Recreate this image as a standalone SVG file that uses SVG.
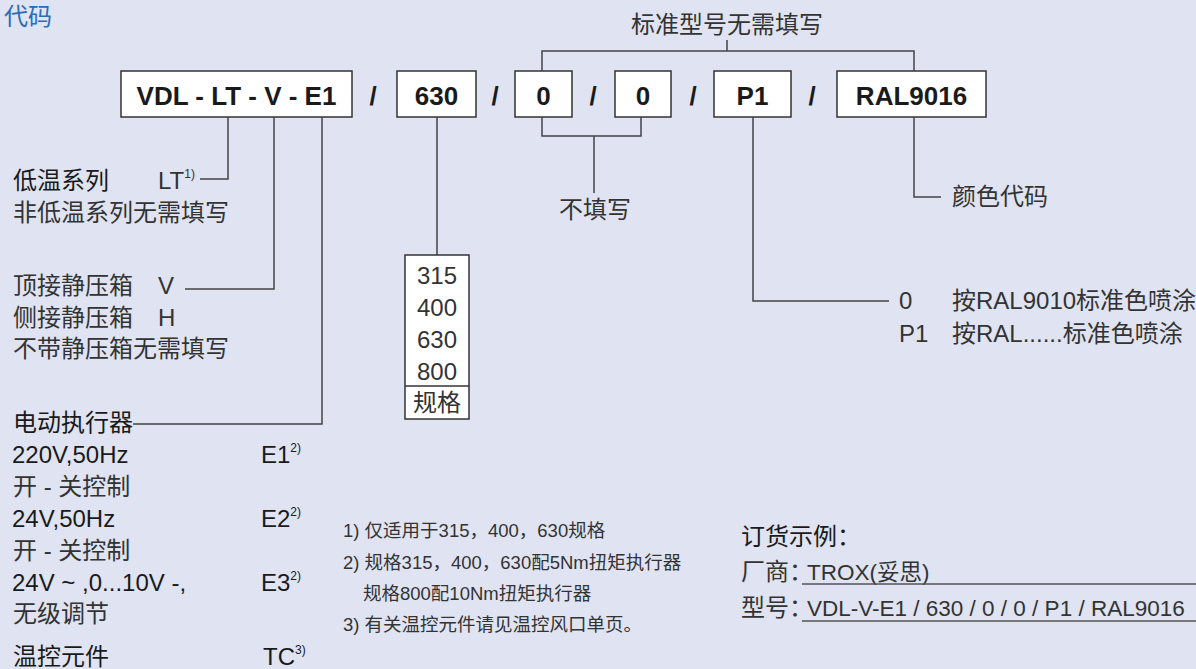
<svg xmlns="http://www.w3.org/2000/svg" width="1196" height="669" viewBox="0 0 1196 669">
<style>
text{font-family:"Liberation Sans","Noto Sans CJK SC",sans-serif;fill:#333}
.t{font-size:24px}
.d{fill:#1a1a1a}
.b{font-size:26px;font-weight:bold;fill:#1a1a1a}
.s{font-size:12px}
.f{font-size:18.5px}
.o{font-size:22.5px}
.box{fill:#fff;stroke:#333;stroke-width:1.5}
.ln{fill:none;stroke:#444;stroke-width:1.5}
.c{text-anchor:middle}
</style>
<rect x="0" y="0" width="1196" height="669" fill="#dfe3f2"/>
<text x="4" y="25" style="font-size:24px;fill:#2b6cb5">代码</text>

<g id="box-vdl"><rect class="box" x="121" y="71" width="231" height="46"/><text class="b c" x="236.5" y="105">VDL - LT - V - E1</text></g>
<g id="sep1"><text class="b c" x="373" y="105">/</text></g>
<g id="box-size"><rect class="box" x="397" y="71" width="79" height="46"/><text class="b c" x="436.5" y="105">630</text></g>
<g id="sep2"><text class="b c" x="495" y="105">/</text></g>
<g id="box-0a"><rect class="box" x="515" y="71" width="57" height="46"/><text class="b c" x="543.5" y="105">0</text></g>
<g id="sep3"><text class="b c" x="593" y="105">/</text></g>
<g id="box-0b"><rect class="box" x="615" y="71" width="56" height="46"/><text class="b c" x="643" y="105">0</text></g>
<g id="sep4"><text class="b c" x="693" y="105">/</text></g>
<g id="box-p1"><rect class="box" x="714" y="71" width="77" height="46"/><text class="b c" x="752.5" y="105">P1</text></g>
<g id="sep5"><text class="b c" x="812" y="105">/</text></g>
<g id="box-ral"><rect class="box" x="837" y="71" width="149" height="46"/><text class="b c" x="911.5" y="105">RAL9016</text></g>

<g id="connectors">
<path class="ln" d="M542 71V51H914V71M727 51V40"/>
<path class="ln" d="M228 117V179H200"/>
<path class="ln" d="M274 117V289H185"/>
<path class="ln" d="M322 117V424H133"/>
<path class="ln" d="M437 117V255"/>
<path class="ln" d="M542 117V136H641V117M594 136V193"/>
<path class="ln" d="M753 117V301H889"/>
<path class="ln" d="M914 117V197H941"/>
</g>

<g id="label-standard"><text class="t c" x="727" y="33">标准型号无需填写</text></g>
<g id="label-nofill"><text class="t c" x="595" y="218">不填写</text></g>
<g id="label-color"><text class="t" x="952" y="205">颜色代码</text></g>

<g id="size-list">
<rect class="box" x="405" y="255" width="64" height="164"/>
<line x1="405" y1="386" x2="469" y2="386" stroke="#333" stroke-width="1.5"/>
<text class="t c" x="437" y="284">315</text>
<text class="t c" x="437" y="316">400</text>
<text class="t c" x="437" y="348">630</text>
<text class="t c" x="437" y="380">800</text>
<text class="t c" x="437" y="411">规格</text>
</g>

<g id="color-options">
<text class="t" x="899" y="309">0</text><text class="t" x="952" y="309">按RAL9010标准色喷涂</text>
<text class="t" x="899" y="342">P1</text><text class="t" x="952" y="342">按RAL......标准色喷涂</text>
</g>

<g id="lt-options">
<text class="t d" x="13" y="189">低温系列</text>
<text class="t" x="158" y="189">LT<tspan class="s" dy="-11">1)</tspan></text>
<text class="t" x="13" y="221">非低温系列无需填写</text>
</g>

<g id="box-options">
<text class="t" x="13" y="294">顶接静压箱</text><text class="t" x="158" y="294">V</text>
<text class="t" x="13" y="326">侧接静压箱</text><text class="t" x="158" y="326">H</text>
<text class="t" x="13" y="357">不带静压箱无需填写</text>
</g>

<g id="actuator-options">
<text class="t d" x="13" y="431">电动执行器</text>
<text class="t d" x="12" y="463">220V,50Hz</text><text class="t d" x="261" y="463">E1<tspan class="s" dy="-11">2)</tspan></text>
<text class="t" x="13" y="495">开 - 关控制</text>
<text class="t d" x="12" y="527">24V,50Hz</text><text class="t d" x="261" y="527">E2<tspan class="s" dy="-11">2)</tspan></text>
<text class="t" x="13" y="559">开 - 关控制</text>
<text class="t d" x="12" y="591">24V ~ ,0...10V -,</text><text class="t d" x="261" y="591">E3<tspan class="s" dy="-11">2)</tspan></text>
<text class="t" x="13" y="622">无级调节</text>
<text class="t d" x="13" y="665">温控元件</text><text class="t d" x="263" y="665">TC<tspan class="s" dy="-11">3)</tspan></text>
</g>

<g id="footnotes">
<text class="f" x="343" y="537">1) 仅适用于315，400，630规格</text>
<text class="f" x="343" y="569">2) 规格315，400，630配5Nm扭矩执行器</text>
<text class="f" x="363" y="600">规格800配10Nm扭矩执行器</text>
<text class="f" x="343" y="631">3) 有关温控元件请见温控风口单页。</text>
</g>

<g id="order-example">
<text class="t d" x="741" y="545">订货示例：</text>
<text class="t" x="741" y="580">厂商：</text><text class="o" x="807" y="580">TROX(妥思)</text>
<line x1="802" y1="584" x2="1196" y2="584" stroke="#555" stroke-width="1.5"/>
<text class="t" x="741" y="616">型号：</text><text class="o" x="807" y="616">VDL-V-E1 / 630 / 0 / 0 / P1 / RAL9016</text>
<line x1="802" y1="621" x2="1196" y2="621" stroke="#555" stroke-width="1.5"/>
</g>
</svg>
